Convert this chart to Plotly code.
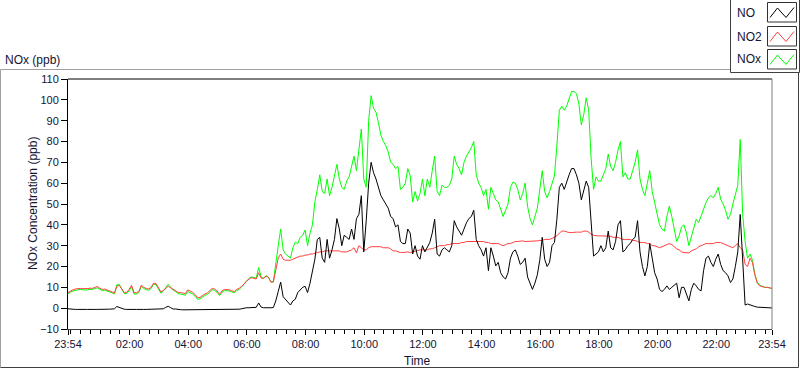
import plotly.graph_objects as go
import pandas as pd

# ---------------- data (5-minute samples, 23:54 -> 23:54 next day) ----------------
times = pd.date_range("2021-03-01 23:54", periods=289, freq="5min")

no_ppb = [
    -0.3, -0.5, -0.6, -0.6, -0.6, -0.5, -0.5, -0.6, -0.6, -0.5,
    -0.5, -0.6, -0.6, -0.5, -0.6, -0.6, -0.5, -0.5, -0.4, -0.3,
    0.8, 0.3, -0.3, -0.5, -0.6, -0.7, -0.7, -0.6, -0.6, -0.5,
    -0.5, -0.6, -0.6, -0.6, -0.6, -0.5, -0.5, -0.6, -0.6, -0.3,
    0.4, 0.9, 0.2, -0.4, -0.4, -0.7, -0.7, -0.8, -0.8, -0.8,
    -0.8, -0.8, -0.8, -0.8, -0.7, -0.7, -0.7, -0.7, -0.6, -0.6,
    -0.7, -0.7, -0.6, -0.6, -0.6, -0.6, -0.5, -0.5, -0.6, -0.6,
    -0.5, -0.3, 0.1, 0.2, 0.2, 0.3, 0.3, 0.4, 2.5, 0.5,
    0.2, 0.1, 0.0, 0.2, 0.3, 3.5, 8, 12.5, 5.5, 4,
    3, 1.5, 3.5, 4.3, 7.5, 9, 10, 10.5, 7.5, 12,
    17, 23.5, 33, 34, 24, 22, 33, 24, 28, 33,
    43, 38, 30, 35, 34, 33, 38, 33, 43, 45,
    54, 27, 42, 60, 70, 65, 62, 58, 54, 52,
    50, 48, 44, 43, 39, 40, 32, 31, 31, 38,
    36, 26, 30, 25, 23.5, 30, 27, 29, 31.5, 36,
    42.7, 26, 25, 28, 29, 28, 27, 30, 42, 39,
    37, 35, 38, 41, 43, 44, 47, 33, 30, 28,
    25, 29, 18, 29, 25, 20.3, 22, 17, 15, 14,
    17, 24, 27, 28, 25, 21, 22, 24, 15, 12,
    9, 12, 16, 23, 34, 23.5, 20, 22, 30, 31.5,
    42.7, 58, 60, 57, 61, 64, 67, 67, 64, 60,
    52, 56, 61, 58, 40, 25, 26, 27, 30, 27,
    29, 37, 29, 28, 32, 40, 42, 27, 28, 30,
    31, 33, 34, 42, 27, 20, 15.5, 20, 31, 24,
    17, 14, 9, 8, 9, 10.7, 9, 10, 11, 12,
    5, 10, 10, 7, 3.5, 9, 12, 10.7, 9, 8.3,
    18, 24, 25, 22, 20, 23.5, 26, 21, 18, 17,
    15.5, 12.3, 14, 20, 27, 45, 20, 1.5, 2, 1.5,
    1, 0.8, 0.5, 0.4, 0.3, 0.2, 0.2, 0.1, 0.1,
]

no2_ppb = [
    7.5, 8.3, 8.8, 9.2, 9.4, 9.5, 9.4, 9.3, 9.4, 9.6,
    9.5, 10, 10.4, 9.6, 9, 9.2, 8.8, 8.4, 7.8, 7.2,
    10.5, 11, 9.5, 7.5, 7.6, 9, 11, 7.5, 7.4, 8,
    11, 10, 9.5, 9.2, 10, 12, 11.8, 10, 7.8, 8.5,
    9.5, 10.5, 9.8, 9, 8.5, 7.6, 7.5, 7.3, 7, 8.8,
    8.3, 7.6, 6.5, 5, 5.2, 6.2, 6.8, 7.3, 8.5, 9.5,
    9.2, 8.3, 6.6, 8.3, 9, 9, 8.8, 8.3, 8, 9,
    9.5, 10.5, 11.5, 13, 14, 14.7, 14.3, 14, 17, 14.5,
    14.2, 15.5, 14.8, 12.5, 12.5, 19, 24, 26, 23.5, 23,
    23, 23, 23.5, 24, 24.3, 25, 25, 25.5, 25.5, 26,
    26, 26.5, 26.7, 27, 27, 27.5, 27.5, 27.5, 27.5, 27.5,
    27.5, 27.5, 27, 27, 27, 27.5, 28, 29, 26.5, 30,
    29, 28, 28, 29, 29.5, 29.5, 29.5, 29.5, 29.5, 29,
    29, 29, 28.5, 27.5, 27.5, 27, 26.7, 26.7, 27, 27,
    26.7, 27, 27.5, 27.5, 28, 28, 28, 28, 28.5, 28.5,
    29, 29.5, 30, 30, 30, 30.5, 30.5, 31, 31, 31,
    31, 31.5, 31.5, 32, 32, 32.3, 32.3, 32.3, 32, 32,
    32, 31.5, 31.5, 31, 31, 31, 31, 30.5, 30, 30.5,
    31, 31, 31.5, 32, 32, 32.3, 32.3, 32, 32, 32,
    32, 32.3, 32.3, 32.5, 32.5, 33, 33, 33, 33.5, 34,
    34.7, 36, 37, 37, 36.5, 36.3, 36.3, 36.5, 36.5, 36.5,
    36.5, 37, 37, 36.5, 35.5, 35, 34.7, 34.7, 34.7, 34.7,
    34.7, 34.5, 34.5, 34, 34, 34, 33.5, 33, 33, 33,
    33, 32.5, 32.5, 32, 31.5, 31.5, 31.5, 31, 31, 30,
    30, 29.5, 29, 29.5, 30, 30.5, 31, 30.5, 29.5, 28.5,
    28, 27, 26.7, 26.5, 26.5, 27.5, 28, 28.5, 29.5, 30,
    30.5, 31, 31, 31, 31, 31.5, 31.5, 31.5, 31, 30.5,
    30, 29.5, 29, 30, 31, 29, 28, 21, 20, 24,
    22, 16, 12, 10.7, 10.3, 10, 10, 9.6, 9.5,
]

nox_ppb = [
    6.9, 7.8, 8.2, 8.6, 8.8, 9.0, 8.8, 8.7, 8.8, 9.1,
    9.0, 9.4, 9.8, 9.1, 8.4, 8.6, 8.3, 7.9, 7.4, 6.9,
    11.3, 11.3, 9.2, 7.0, 7.0, 8.3, 10.3, 6.8, 6.8, 7.5,
    10.5, 9.4, 8.9, 8.6, 9.4, 11.5, 11.3, 9.4, 7.2, 8.2,
    9.9, 11.5, 10.0, 8.6, 8.1, 6.9, 6.8, 6.5, 6.2, 8.0,
    7.5, 6.8, 5.7, 4.2, 4.5, 5.5, 6.1, 6.6, 7.9, 8.9,
    8.5, 7.6, 6.0, 7.7, 8.4, 8.4, 8.3, 7.8, 7.4, 8.4,
    9.0, 10.2, 11.6, 13.2, 14.2, 15.0, 14.6, 14.4, 19.5, 15.0,
    14.4, 15.6, 14.8, 12.7, 12.8, 22.5, 30, 38, 28, 26,
    25, 24, 29, 31.7, 31, 34, 35, 37.5, 30, 36,
    40, 51, 57, 64, 56, 55, 62, 54, 58, 64,
    69, 62, 58, 57, 61, 63, 68, 73, 66, 75,
    86, 62, 58, 90, 102, 96, 94, 89, 83, 80,
    78, 75, 70, 69, 67, 68, 57, 58, 60, 67,
    63.5, 51, 56, 51.5, 55, 62, 54, 62, 58, 66,
    73, 56, 54, 59, 58, 58, 59, 62, 73, 69,
    67, 64, 70, 73, 75, 77, 80, 64, 60, 58,
    54, 57, 47.5, 58, 55, 52, 51, 47, 44, 47,
    50, 58, 60.5, 60, 57, 52, 55, 60, 49, 43,
    40, 44, 48, 57, 66, 56, 53, 56, 60, 63.5,
    78, 95, 97, 95, 97, 100, 104, 104, 103, 98,
    88, 93, 101, 95, 72, 57, 63, 61, 61, 64,
    67, 74, 68, 66, 70, 76, 80, 63, 65, 62,
    62, 66, 70, 76, 62, 57, 54, 60, 66, 56,
    51, 45, 40, 38, 37, 44, 49, 44, 38, 32,
    34.7, 39, 40, 36, 30, 34, 38, 42.7, 41, 44,
    48, 50.7, 53, 54, 53, 55, 58, 52.3, 50, 47,
    42.7, 45, 50, 55, 59, 81, 45, 32, 24, 26,
    23, 16, 12.5, 11, 10.5, 10, 10, 9.6, 9.5,
]

assert len(no_ppb) == 289, len(no_ppb)
assert len(no2_ppb) == 289, len(no2_ppb)
assert len(nox_ppb) == 289, len(nox_ppb)

series_names = ["NO", "NO2", "NOx"]
tick_labels = ["23:54", "02:00", "04:00", "06:00", "08:00", "10:00", "12:00",
               "14:00", "16:00", "18:00", "20:00", "22:00", "23:54"]
y_ticks = list(range(-10, 111, 10))

# ---------------- layout helpers (pixel geometry) ----------------
W, H = 800, 369
L, R, T, B = 68, 772, 79, 329


def px(x):
    return (x - L) / (R - L)


def py(y):
    return (B - y) / (B - T)


tick_vals = [times[0]] + [pd.Timestamp(f"2021-03-02 {t}") for t in tick_labels[1:-1]] + [times[-1]]
minor_vals = list(pd.date_range("2021-03-02 00:00", "2021-03-02 23:40", freq="20min"))

font_family = "Liberation Sans, Arial, sans-serif"
text_col = "#141432"

fig = go.Figure()
fig.add_trace(go.Scatter(x=times, y=nox_ppb, mode="lines", name="NOx",
                         line=dict(color="#00ff00", width=1)))
fig.add_trace(go.Scatter(x=times, y=no2_ppb, mode="lines", name="NO2",
                         line=dict(color="#ff4040", width=1)))
fig.add_trace(go.Scatter(x=times, y=no_ppb, mode="lines", name="NO",
                         line=dict(color="#000000", width=1)))

shapes = []
# outer frame
shapes.append(dict(type="line", xref="paper", yref="paper", x0=px(0.5), x1=px(798.5), y0=py(69.5), y1=py(69.5),
                   line=dict(color="#a0a0a0", width=1)))
shapes.append(dict(type="line", xref="paper", yref="paper", x0=px(0.5), x1=px(0.5), y0=py(69.5), y1=py(367.5),
                   line=dict(color="#a0a0a0", width=1)))
shapes.append(dict(type="line", xref="paper", yref="paper", x0=px(0.5), x1=px(798.5), y0=py(367.5), y1=py(367.5),
                   line=dict(color="#404040", width=1)))
shapes.append(dict(type="line", xref="paper", yref="paper", x0=px(798.5), x1=px(798.5), y0=py(69.5), y1=py(367.5),
                   line=dict(color="#404040", width=1)))
# plot area top and right borders
shapes.append(dict(type="line", xref="paper", yref="paper", x0=0, x1=1, y0=1, y1=1,
                   line=dict(color="#000000", width=1)))
shapes.append(dict(type="line", xref="paper", yref="paper", x0=1, x1=1, y0=0, y1=1,
                   line=dict(color="#808080", width=1)))
# legend box
shapes.append(dict(type="rect", xref="paper", yref="paper", x0=px(730.5), x1=px(799.5), y0=py(-1), y1=py(72.5),
                   fillcolor="white", line=dict(color="#404040", width=1)))
legend_colors = ["#000000", "#ff4040", "#00ff00"]
box_tops = [2.5, 26.5, 49.5]
annotations = []
for name, col, top in zip(series_names, legend_colors, box_tops):
    shapes.append(dict(type="rect", xref="paper", yref="paper", x0=px(767.5), x1=px(796.5),
                       y0=py(top), y1=py(top + 19.5), fillcolor="white",
                       line=dict(color="#303030", width=1)))
    pts = [(770, top + 15), (777.5, top + 5.5), (786, top + 15), (794, top + 5)]
    path = "M " + " L ".join(f"{px(a):.5f},{py(b):.5f}" for a, b in pts)
    shapes.append(dict(type="path", xref="paper", yref="paper", path=path,
                       line=dict(color=col, width=1)))
    annotations.append(dict(text=name, xref="paper", yref="paper", x=px(735), y=py(top + 10),
                            xanchor="left", yanchor="middle", showarrow=False,
                            font=dict(size=12, color=text_col, family=font_family)))

annotations.append(dict(text="NOx (ppb)", xref="paper", yref="paper", x=px(3), y=py(60),
                        xanchor="left", yanchor="middle", showarrow=False,
                        font=dict(size=12, color=text_col, family=font_family)))
annotations.append(dict(text="NOx Concentration (ppb)", xref="paper", yref="paper", x=px(33), y=py(204),
                        xanchor="center", yanchor="middle", showarrow=False, textangle=-90,
                        font=dict(size=12, color=text_col, family=font_family)))
annotations.append(dict(text="Time", xref="paper", yref="paper", x=px(417), y=py(361),
                        xanchor="center", yanchor="middle", showarrow=False,
                        font=dict(size=12, color=text_col, family=font_family)))

fig.update_layout(
    width=W, height=H,
    margin=dict(l=L, r=W - R, t=T, b=H - B),
    paper_bgcolor="white", plot_bgcolor="white",
    showlegend=False,
    shapes=shapes, annotations=annotations,
    font=dict(family=font_family, size=11, color=text_col),
)
fig.update_xaxes(
    range=[times[0], times[-1]],
    tickmode="array", tickvals=tick_vals, ticktext=tick_labels,
    ticks="outside", ticklen=5, tickcolor="#000000", tickwidth=1,
    minor=dict(tickmode="array", tickvals=minor_vals, ticks="outside", ticklen=4,
               tickcolor="#000000", tickwidth=1, showgrid=False),
    showline=True, linecolor="#404040", linewidth=1,
    showgrid=False, zeroline=False,
    tickfont=dict(size=11, color=text_col, family=font_family),
)
fig.update_yaxes(
    range=[-10, 110], tickmode="array", tickvals=y_ticks,
    ticks="outside", ticklen=6, tickcolor="#000000", tickwidth=1,
    showline=True, linecolor="#000000", linewidth=1,
    showgrid=False, zeroline=False,
    tickfont=dict(size=11, color=text_col, family=font_family),
)

fig.write_html(
    "out.html",
    config={"displayModeBar": False},
    post_script="document.body.style.margin='0';document.body.style.overflow='hidden';",
)
